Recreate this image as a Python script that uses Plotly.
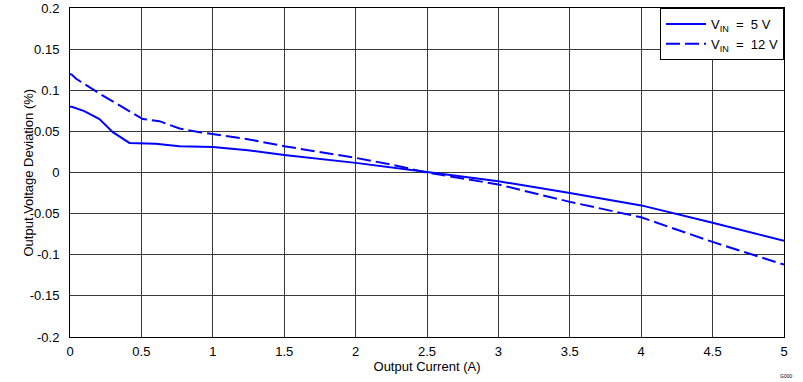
import plotly.graph_objects as go

# Data
x_5v = [0.0, 0.012, 0.1, 0.206, 0.30, 0.416, 0.60, 0.767, 1.0, 1.245, 1.5, 2.0, 2.5, 3.0, 3.5, 4.0, 4.5, 5.0]
y_5v = [0.080, 0.080, 0.0746, 0.065, 0.049, 0.036, 0.035, 0.032, 0.031, 0.027, 0.0214, 0.0117, 0.0005, -0.0106, -0.025, -0.040, -0.061, -0.083]

x_12v = [0.0, 0.012, 0.043, 0.113, 0.206, 0.323, 0.44, 0.51, 0.626, 0.767, 0.907, 1.14, 1.245, 1.5, 2.0, 2.25, 2.5, 3.0, 3.5, 4.0, 4.5, 5.0]
y_12v = [0.120, 0.119, 0.114, 0.106, 0.096, 0.084, 0.072, 0.065, 0.0624, 0.0535, 0.049, 0.0426, 0.0405, 0.032, 0.0178, 0.0097, 0.0, -0.0146, -0.0357, -0.0545, -0.0844, -0.112]

x_ticks = [0, 0.5, 1, 1.5, 2, 2.5, 3, 3.5, 4, 4.5, 5]
x_tick_text = ["0", "0.5", "1", "1.5", "2", "2.5", "3", "3.5", "4", "4.5", "5"]
y_ticks = [-0.2, -0.15, -0.1, -0.05, 0, 0.05, 0.1, 0.15, 0.2]
y_tick_text = ["-0.2", "-0.15", "-0.1", "-0.05", "0", "0.05", "0.1", "0.15", "0.2"]

font_family = "Liberation Sans, Arial, sans-serif"

fig = go.Figure()
fig.add_trace(go.Scatter(
    x=x_5v, y=y_5v, mode="lines", name="V<sub>IN</sub>  =  5 V",
    line=dict(color="#0000ff", width=2),
))
fig.add_trace(go.Scatter(
    x=x_12v, y=y_12v, mode="lines", name="V<sub>IN</sub>  =  12 V",
    line=dict(color="#0000ff", width=2, dash="14px,5px"),
))

fig.update_layout(
    width=803, height=382,
    margin=dict(l=70, r=19, t=8, b=45),
    paper_bgcolor="white", plot_bgcolor="white",
    font=dict(family=font_family, size=13, color="black"),
    showlegend=True,
    legend=dict(
        x=1, y=1, xanchor="right", yanchor="top",
        bgcolor="white", bordercolor="black", borderwidth=1,
        font=dict(size=13, family=font_family),
        tracegroupgap=0, itemwidth=40,
    ),
    xaxis=dict(
        range=[0, 5], tickvals=x_ticks, ticktext=x_tick_text,
        showgrid=True, gridcolor="#3a3a3a", gridwidth=1,
        showline=True, linecolor="black", linewidth=1, mirror=True,
        zeroline=False, ticks="", ticklabelstandoff=2, automargin=False,
        title=dict(text="Output Current (A)", standoff=1, font=dict(size=13)),
        tickfont=dict(size=13),
    ),
    yaxis=dict(
        range=[-0.2, 0.2], tickvals=y_ticks, ticktext=y_tick_text,
        showgrid=True, gridcolor="#3a3a3a", gridwidth=1,
        showline=True, linecolor="black", linewidth=1, mirror=True,
        zeroline=False, ticks="", ticklabelstandoff=7, automargin=False,
        tickfont=dict(size=13),
    ),
    annotations=[
        dict(
            text="Output Voltage Deviation (%)", x=0, y=0.5, xref="paper", yref="paper",
            xanchor="center", yanchor="middle", xshift=-42, textangle=-90,
            showarrow=False, font=dict(size=13, color="black"),
        ),
        dict(
            text="G000", x=1, y=0, xref="paper", yref="paper",
            xanchor="right", yanchor="top", xshift=10, yshift=-34,
            showarrow=False, font=dict(size=5, color="black"),
        ),
    ],
)

fig.write_html("out.html")
